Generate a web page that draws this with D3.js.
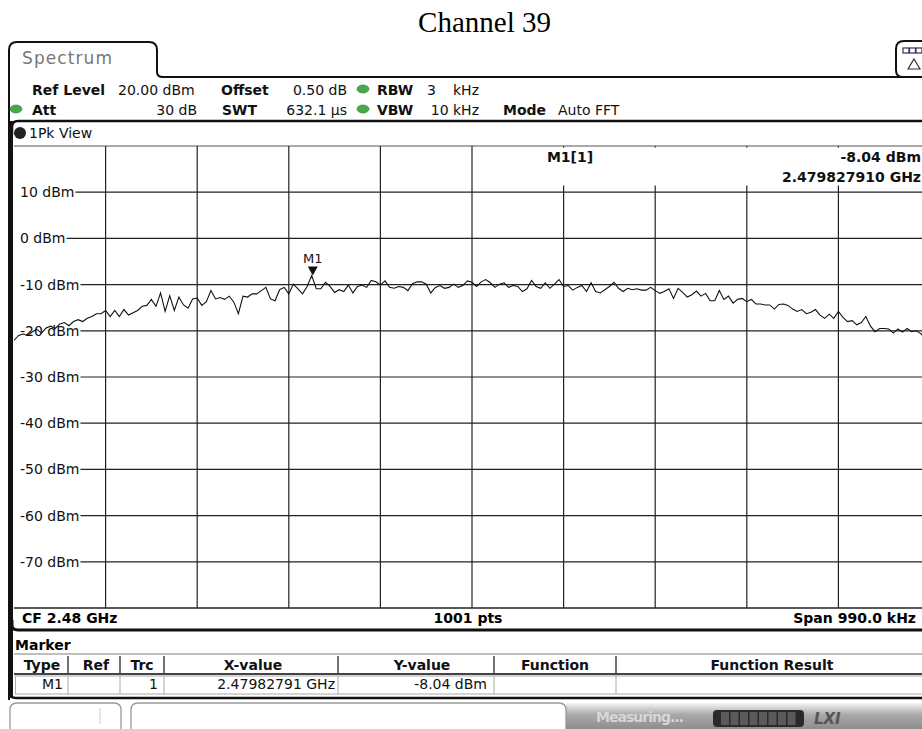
<!DOCTYPE html>
<html><head><meta charset="utf-8">
<script src="https://cdn.jsdelivr.net/npm/d3@7"></script>
<style>
html,body{margin:0;padding:0;background:#fff;}
svg{display:block;}
text{font-family:"DejaVu Sans",Verdana,sans-serif;}
</style></head>
<body>
<svg id="chart" width="922" height="729"></svg>
<script>
// ---------- data ----------
const chartTitle = "Channel 39";
const centerGHz = 2.48;
const spanKHz = 990;
const yTickValues = [10, 0, -10, -20, -30, -40, -50, -60, -70];
const yDomain = [-80, 20];
const xDivisions = 10;
const markerFreqGHz = 2.47982791;
const markerDbm = -8.04;
const markerLabel = "M1";
const markerReadout = ["M1[1]", "-8.04 dBm", "2.479827910 GHz"];
const traceDbm = [
-22.1,-21.0,-20.7,-21.0,-20.2,-19.7,-20.5,-19.4,-19.0,-19.5,
-18.5,-18.2,-18.9,-18.0,-17.6,-18.0,-17.3,-16.9,-16.3,-16.3,
-15.6,-16.9,-15.6,-16.9,-15.4,-16.6,-16.1,-15.6,-14.7,-14.5,
-13.2,-14.7,-11.8,-15.8,-12.4,-15.6,-12.7,-14.4,-15.1,-13.1,
-12.9,-14.5,-13.7,-11.3,-13.1,-12.8,-13.2,-12.5,-13.8,-16.3,
-12.5,-12.7,-12.0,-12.0,-11.3,-10.6,-13.1,-13.5,-11.1,-10.6,
-12.0,-9.9,-10.9,-12.0,-10.4,-8.04,-10.9,-10.9,-9.5,-10.4,
-11.7,-11.1,-11.5,-10.1,-11.8,-10.4,-10.1,-10.6,-9.1,-9.4,
-10.1,-9.2,-10.6,-10.8,-10.4,-10.6,-11.3,-9.8,-9.4,-9.4,
-9.9,-11.8,-10.6,-10.2,-10.8,-10.6,-9.9,-10.6,-10.2,-9.2,
-9.5,-10.4,-9.4,-8.9,-9.6,-10.6,-9.9,-9.6,-10.6,-10.2,
-10.4,-11.5,-10.9,-9.1,-10.4,-10.8,-9.6,-10.8,-9.9,-8.9,
-10.4,-10.2,-11.2,-10.6,-10.2,-11.5,-9.6,-11.5,-11.8,-11.1,
-10.4,-9.5,-10.8,-11.5,-10.8,-11.1,-10.9,-11.2,-11.2,-10.6,
-11.3,-11.9,-11.5,-10.9,-13.0,-10.8,-11.7,-12.7,-12.2,-11.4,
-12.5,-11.9,-13.5,-13.5,-11.3,-13.2,-12.5,-14.0,-13.2,
-13.0,-13.7,-13.2,-14.2,-14.2,-14.4,-14.4,-15.3,-14.3,-14.2,
-14.5,-15.3,-15.8,-15.4,-16.3,-16.0,-15.4,-16.6,-17.3,-16.4,
-17.3,-15.8,-17.1,-18.0,-17.8,-18.7,-18.2,-16.9,-19.0,-20.2,
-19.5,-19.5,-19.6,-20.5,-19.6,-20.3,-19.5,-20.2,-20.0,-20.6,
-21.8,-21.0
];
const headerRow1 = [
  {t:"Ref Level", x:32, b:true}, {t:"20.00 dBm", x:118},
  {t:"Offset", x:221, b:true}, {t:"0.50 dB", x:347, a:"end"},
  {t:"RBW", x:377, b:true}, {t:"3", x:427}, {t:"kHz", x:479, a:"end"}
];
const headerRow2 = [
  {t:"Att", x:32, b:true}, {t:"30 dB", x:197, a:"end"},
  {t:"SWT", x:222, b:true}, {t:"632.1 µs", x:347, a:"end"},
  {t:"VBW", x:377, b:true}, {t:"10 kHz", x:479, a:"end"},
  {t:"Mode", x:503, b:true}, {t:"Auto FFT", x:558}
];
const footerTexts = {left:"CF 2.48 GHz", mid:"1001 pts", right:"Span 990.0 kHz"};
const tableCols = ["Type","Ref","Trc","X-value","Y-value","Function","Function Result"];
const tableRow = ["M1","","1","2.47982791 GHz","-8.04 dBm","",""];

// ---------- layout ----------
const svg = d3.select("#chart");
const plotL = 14, plotR = 930, plotT = 146, plotB = 608;
const fStart = centerGHz - spanKHz/2/1e6, fStop = centerGHz + spanKHz/2/1e6;
const x = d3.scaleLinear().domain([fStart, fStop]).range([plotL, plotR]);
const y = d3.scaleLinear().domain(yDomain).range([plotB, plotT]);

// title
svg.append("text").attr("x", 484.5).attr("y", 32).attr("text-anchor","middle")
  .style("font-family","'Liberation Serif','Times New Roman',serif").style("font-size","29px")
  .text(chartTitle);

// Spectrum tab
svg.append("path").attr("d","M9,700 L9,50 Q9,42 17,42 L149,42 Q157,42 157,50 L157,72 Q157,77 163,77 L922,77")
  .attr("fill","none").attr("stroke","#111").attr("stroke-width",2);
svg.append("text").attr("x",22).attr("y",64).style("font-size","17px").attr("fill","#777")
  .attr("textLength",90).text("Spectrum");
// right icon box
svg.append("path").attr("d","M922,41 L904,41 Q896,41 896,49 L896,70 Q896,77 903,77")
  .attr("fill","none").attr("stroke","#111").attr("stroke-width",2);
for (let k=0;k<3;k++) svg.append("rect").attr("x",903+k*6.5).attr("y",48).attr("width",6).attr("height",5)
  .attr("fill","#fff").attr("stroke","#335").attr("stroke-width",1.2);
svg.append("path").attr("d","M914,59 L920,69 L908,69 Z").attr("fill","none").attr("stroke","#333").attr("stroke-width",1.2);

// header rows
function greenDot(cx, cy){
  svg.append("ellipse").attr("cx",cx).attr("cy",cy).attr("rx",6).attr("ry",4)
    .attr("fill","#4aa84a").attr("stroke","#2f7a2f").attr("stroke-width",0.6);
}
headerRow1.forEach(d=>svg.append("text").attr("x",d.x).attr("y",95).attr("text-anchor",d.a||"start")
  .style("font-size","14px").style("font-weight",d.b?"bold":"normal").attr("fill","#111").text(d.t));
headerRow2.forEach(d=>svg.append("text").attr("x",d.x).attr("y",115).attr("text-anchor",d.a||"start")
  .style("font-size","14px").style("font-weight",d.b?"bold":"normal").attr("fill","#111").text(d.t));
greenDot(363,89); greenDot(363,109); greenDot(16,109);

// view box top
svg.append("path").attr("d","M12,135 L12,127 Q12,121 18,121 L922,121")
  .attr("fill","none").attr("stroke","#111").attr("stroke-width",2.5);
svg.append("circle").attr("cx",20).attr("cy",133).attr("r",6).attr("fill","#222");
svg.append("text").attr("x",29).attr("y",138).style("font-size","14px").attr("fill","#111").text("1Pk View");

// left frame line
svg.append("rect").attr("x",9).attr("y",121).attr("width",4).attr("height",577).attr("fill","#111");

// grid: top line
svg.append("line").attr("x1",plotL).attr("x2",plotR).attr("y1",y(yDomain[1])).attr("y2",y(yDomain[1]))
  .attr("stroke","#555").attr("stroke-width",1.2);
// vertical grid
const vTicks = d3.range(xDivisions+1).map(k=>fStart + k*(fStop-fStart)/xDivisions);
svg.append("g").selectAll("line").data(vTicks.slice(1)).join("line")
  .attr("x1",d=>x(d)).attr("x2",d=>x(d)).attr("y1",plotT).attr("y2",plotB)
  .attr("stroke","#222").attr("stroke-width",1.2);

// marker readout box
svg.append("rect").attr("x",474).attr("y",plotT+1.5).attr("width",460).attr("height",38).attr("fill","#fff");
svg.append("text").attr("x",570).attr("y",162).attr("text-anchor","middle").style("font-size","14px")
  .style("font-weight","bold").attr("fill","#111").text(markerReadout[0]);
svg.append("text").attr("x",921).attr("y",162).attr("text-anchor","end").style("font-size","14px")
  .style("font-weight","bold").attr("fill","#111").text(markerReadout[1]);
svg.append("text").attr("x",921).attr("y",182).attr("text-anchor","end").style("font-size","14px")
  .style("font-weight","bold").attr("fill","#111").text(markerReadout[2]);

// horizontal grid with labels
const hg = svg.append("g");
yTickValues.forEach(v=>{
  const t = hg.append("text").attr("x",20).attr("y",y(v)+5).style("font-size","14px").attr("fill","#111")
    .text(v + " dBm");
  const w = t.node().getComputedTextLength();
  hg.insert("line","text").attr("x1",20+w+1).attr("x2",plotR).attr("y1",y(v)).attr("y2",y(v))
    .attr("stroke","#222").attr("stroke-width",1.2);
});

// trace
const nPts = traceDbm.length;
const line = d3.line().x((d,i)=>x(fStart + i*(fStop-fStart)/(nPts-1))).y(d=>y(d));
svg.append("clipPath").attr("id","clip").append("rect").attr("x",plotL).attr("y",plotT).attr("width",plotR-plotL).attr("height",plotB-plotT);
svg.append("path").datum(traceDbm).attr("d",line).attr("fill","none").attr("stroke","#111")
  .attr("stroke-width",1.1).attr("clip-path","url(#clip)");

// marker
const mx = x(markerFreqGHz), my = y(markerDbm);
svg.append("path").attr("d",`M${mx-5},${my-9} L${mx+5},${my-9} L${mx},${my} Z`).attr("fill","#111");
svg.append("text").attr("x",mx).attr("y",my-13).attr("text-anchor","middle").style("font-size","13px")
  .attr("fill","#111").text(markerLabel);

// bottom line of grid
svg.append("line").attr("x1",plotL).attr("x2",922).attr("y1",plotB).attr("y2",plotB).attr("stroke","#222").attr("stroke-width",1.6);
// footer texts
svg.append("text").attr("x",22).attr("y",623).style("font-size","14px").style("font-weight","bold").text(footerTexts.left);
svg.append("text").attr("x",468).attr("y",623).attr("text-anchor","middle").style("font-size","14px").style("font-weight","bold").text(footerTexts.mid);
svg.append("text").attr("x",916).attr("y",623).attr("text-anchor","end").style("font-size","14px").style("font-weight","bold").text(footerTexts.right);
// view panel bottom
svg.append("path").attr("d","M12,620 L12,625 Q12,630 18,630 L922,630").attr("fill","none").attr("stroke","#111").attr("stroke-width",3);

// marker table
svg.append("text").attr("x",15).attr("y",650).style("font-size","14px").style("font-weight","bold").text("Marker");
svg.append("line").attr("x1",14).attr("x2",922).attr("y1",654).attr("y2",654).attr("stroke","#aaa").attr("stroke-width",1.5);
svg.append("line").attr("x1",14).attr("x2",922).attr("y1",674).attr("y2",674).attr("stroke","#444").attr("stroke-width",2);
svg.append("rect").attr("x",15.5).attr("y",676).attr("width",920).attr("height",18).attr("fill","none").attr("stroke","#aaa");
const colSep = [68,120,164,338,494,616];
colSep.forEach(cx=>{
  svg.append("line").attr("x1",cx).attr("x2",cx).attr("y1",656).attr("y2",673).attr("stroke","#444").attr("stroke-width",1.5);
  svg.append("line").attr("x1",cx).attr("x2",cx).attr("y1",676).attr("y2",694).attr("stroke","#aaa").attr("stroke-width",1);
});
const headX = [42,96,142,253,422,555,772];
tableCols.forEach((c,i)=>svg.append("text").attr("x",headX[i]).attr("y",670).attr("text-anchor","middle")
  .style("font-size","14px").style("font-weight","bold").attr("fill","#111").text(c));
const rowX = [63,115,158,335,487,610,900];
tableRow.forEach((c,i)=>svg.append("text").attr("x",rowX[i]).attr("y",689).attr("text-anchor","end")
  .style("font-size","14px").attr("fill","#111").text(c));
svg.append("path").attr("d","M10,690 L10,693 Q10,698 16,698 L922,698").attr("fill","none").attr("stroke","#111").attr("stroke-width",2.5);

// status bar
const defs = svg.append("defs");
const gr = defs.append("linearGradient").attr("id","sb").attr("x1",0).attr("x2",0).attr("y1",0).attr("y2",1);
gr.append("stop").attr("offset","0%").attr("stop-color","#f4f4f4");
gr.append("stop").attr("offset","45%").attr("stop-color","#a9a9a9");
gr.append("stop").attr("offset","100%").attr("stop-color","#8d8d8d");
svg.append("rect").attr("x",566).attr("y",703).attr("width",360).attr("height",26).attr("fill","url(#sb)");
svg.append("path").attr("d","M10,735 L10,710 Q10,703 17,703 L114,703 Q121,703 121,710 L121,735")
  .attr("fill","#fff").attr("stroke","#999").attr("stroke-width",1.3);
svg.append("line").attr("x1",100).attr("x2",100).attr("y1",708).attr("y2",724).attr("stroke","#ccc");
svg.append("path").attr("d","M131,735 L131,710 Q131,703 138,703 L559,703 Q566,703 566,710 L566,735")
  .attr("fill","#fff").attr("stroke","#999").attr("stroke-width",1.3);
svg.append("text").attr("x",596).attr("y",722).style("font-size","14px").style("font-weight","bold")
  .attr("fill","#d6d6d6").attr("textLength",88).text("Measuring...");
svg.append("rect").attr("x",713).attr("y",710).attr("width",91).attr("height",17).attr("rx",4).attr("fill","#2a2a2a");
d3.range(8).forEach(k=>svg.append("rect").attr("x",721+k*9.5).attr("y",712).attr("width",8).attr("height",13).attr("fill","#5a5a5a"));
svg.append("text").attr("x",814).attr("y",724).style("font-size","15px").style("font-weight","bold")
  .style("font-style","italic").attr("fill","#555").text("LXI");
</script>
</body></html>
